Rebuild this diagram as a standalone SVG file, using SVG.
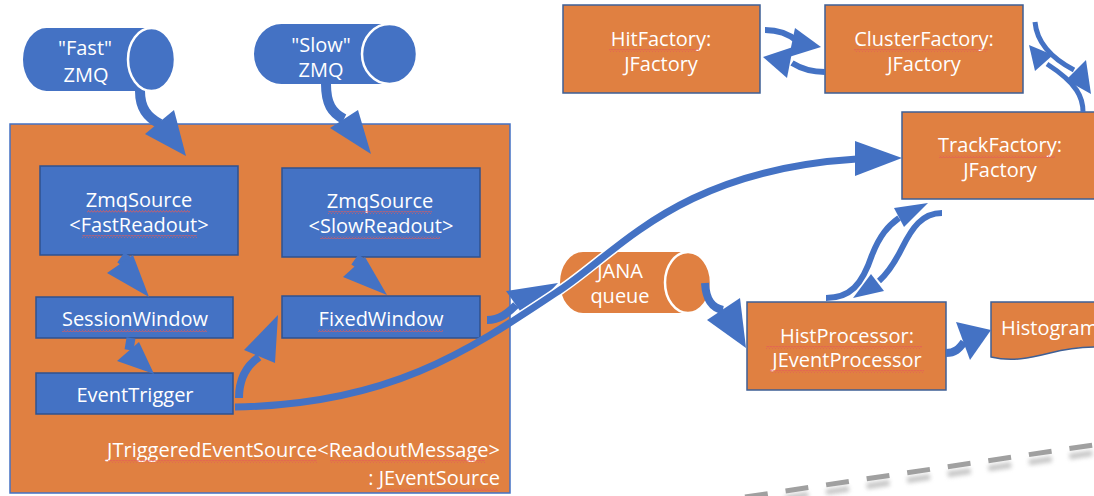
<svg xmlns="http://www.w3.org/2000/svg" width="1094" height="496" viewBox="0 0 1094 496">
  <defs>
    <style>
      .t { font-family: "Open Sans", "Noto Sans", sans-serif; font-size: 20px; fill: #ffffff; }
      .c { text-anchor: middle; }
      .r { text-anchor: end; }
      .bbox { fill: #4472C4; stroke: #2F528F; stroke-width: 1.5; }
      .obox { fill: #E08041; stroke: #3E5F95; stroke-width: 1.5; }
      .ln { fill: none; stroke: #4472C4; stroke-linecap: butt; }
      .hd { fill: #4472C4; }
      .sq { fill: url(#squiggle); }
    </style>
    <pattern id="squiggle" patternUnits="userSpaceOnUse" width="3" height="3">
      <path d="M0,2.5 L1.5,0.5 L3,2.5" fill="none" stroke="#E35B5B" stroke-width="0.8"/>
    </pattern>
    <filter id="shadow" x="-10%" y="-50%" width="120%" height="200%">
      <feGaussianBlur stdDeviation="2.2"/>
    </filter>
    <clipPath id="outside">
      <rect x="511" y="0" width="600" height="496"/>
    </clipPath>
  </defs>

  <!-- dashed boundary line with soft shadow -->
  <g id="boundary">
    <line x1="745" y1="504" x2="1100" y2="452" stroke="#9A9A9A" stroke-width="6" stroke-dasharray="23 18" opacity="0.55" filter="url(#shadow)"/>
    <line x1="745" y1="497" x2="1100" y2="444" stroke="#A0A0A0" stroke-width="5" stroke-dasharray="23 18"/>
  </g>

  <!-- ZMQ input queues -->
  <g id="fast-zmq">
    <path d="M46.5,28 L151.5,28 A23.5,31.5 0 0 1 151.5,91 L46.5,91 A23.5,31.5 0 0 1 46.5,28 Z" fill="#4472C4"/>
    <ellipse cx="151.5" cy="59.5" rx="23.5" ry="31.5" fill="#4472C4" stroke="#ffffff" stroke-width="2.5"/>
    <text class="t c" x="85" y="55">"Fast"</text>
    <text class="t c" x="86" y="82">ZMQ</text>
  </g>
  <g id="slow-zmq">
    <path d="M281.5,24 L389.5,24 A27.5,30 0 0 1 389.5,84 L281.5,84 A27.5,30 0 0 1 281.5,24 Z" fill="#4472C4"/>
    <ellipse cx="389.5" cy="54" rx="27.5" ry="30" fill="#4472C4" stroke="#ffffff" stroke-width="2.5"/>
    <text class="t c" x="321" y="52">"Slow"</text>
    <text class="t c" x="321" y="77">ZMQ</text>
  </g>

  <!-- event source container -->
  <g id="event-source">
    <rect x="10" y="124" width="500" height="369" fill="#E08041" stroke="#4472C4" stroke-width="1.5"/>
    <text class="t r" x="500" y="457">JTriggeredEventSource&lt;ReadoutMessage&gt;</text>
    <text class="t r" x="500" y="485">: JEventSource</text>
    <rect class="sq" x="108" y="460" width="209" height="3"/>
    <rect class="sq" x="330" y="460" width="155" height="3"/>
    <rect class="sq" x="378" y="488" width="120" height="3"/>
  </g>

  <g id="zmq-fast-source">
    <rect class="bbox" x="40" y="166" width="198" height="89"/>
    <text class="t c" x="139" y="207">ZmqSource</text>
    <text class="t c" x="139" y="232">&lt;FastReadout&gt;</text>
    <rect class="sq" x="87" y="210" width="103" height="3"/>
    <rect class="sq" x="82" y="235" width="115" height="3"/>
  </g>
  <g id="zmq-slow-source">
    <rect class="bbox" x="282" y="168" width="198" height="89"/>
    <text class="t c" x="380" y="208">ZmqSource</text>
    <text class="t c" x="381" y="233">&lt;SlowReadout&gt;</text>
    <rect class="sq" x="328" y="211" width="104" height="3"/>
    <rect class="sq" x="320" y="236" width="120" height="3"/>
  </g>
  <g id="session-window">
    <rect class="bbox" x="36" y="297" width="197" height="41"/>
    <text class="t c" x="135" y="326">SessionWindow</text>
    <rect class="sq" x="62" y="329" width="145" height="3"/>
  </g>
  <g id="fixed-window">
    <rect class="bbox" x="282" y="296" width="198" height="42"/>
    <text class="t c" x="381" y="326">FixedWindow</text>
    <rect class="sq" x="318" y="329" width="125" height="3"/>
  </g>
  <g id="event-trigger">
    <rect class="bbox" x="36" y="373" width="197" height="41"/>
    <text class="t c" x="135" y="402">EventTrigger</text>
  </g>

  <!-- JANA queue -->
  <g id="jana-queue">
    <path d="M583,252 L688,252 A23,30.5 0 0 1 688,313 L583,313 A23,30.5 0 0 1 583,252 Z" fill="#E08041"/>
    <ellipse cx="688" cy="282.5" rx="23" ry="30.5" fill="#E08041" stroke="#ffffff" stroke-width="2.5"/>
    <text class="t c" x="620" y="278">JANA</text>
    <text class="t c" x="620" y="303">queue</text>
  </g>

  <!-- factories and processor -->
  <g id="hit-factory">
    <rect class="obox" x="563" y="5" width="197" height="88"/>
    <text class="t c" x="661" y="46">HitFactory:</text>
    <text class="t c" x="661" y="71">JFactory</text>
    <rect class="sq" x="609" y="49" width="90" height="3"/>
  </g>
  <g id="cluster-factory">
    <rect class="obox" x="825" y="5" width="198" height="88"/>
    <text class="t c" x="924" y="46">ClusterFactory:</text>
    <text class="t c" x="924" y="71">JFactory</text>
    <rect class="sq" x="854" y="49" width="134" height="3"/>
  </g>
  <g id="track-factory">
    <rect class="obox" x="902" y="112" width="200" height="87"/>
    <text class="t c" x="1000" y="152">TrackFactory:</text>
    <text class="t c" x="1000" y="177">JFactory</text>
    <rect class="sq" x="939" y="155" width="116" height="3"/>
  </g>
  <g id="hist-processor">
    <rect class="obox" x="747" y="302" width="199" height="88"/>
    <text class="t c" x="847" y="343">HistProcessor:</text>
    <text class="t c" x="847" y="367">JEventProcessor</text>
    <rect class="sq" x="766" y="346" width="156" height="3"/>
    <rect class="sq" x="770" y="370" width="154" height="3"/>
  </g>
  <g id="histogram">
    <path class="obox" d="M991,302 L1100,302 L1100,347 C1085,347 1070,348 1050,353 C1030,358 1012,362 991,357 Z"/>
    <text class="t" x="1001" y="335">Histogram</text>
  </g>

  <!-- connectors -->
  <g id="connectors">
    <!-- ZMQ queues into their sources -->
    <path class="ln" stroke-width="10" d="M140,91 C140,108 147,117 160,124"/>
    <polygon class="hd" points="145,134 174,110 186,156"/>
    <path class="ln" stroke-width="10" d="M326,84 C326,104 332,113 344,119"/>
    <polygon class="hd" points="330,128 358,110 371,154"/>

    <!-- sources into windows, window into trigger -->
    <path class="ln" stroke-width="9" d="M128,255 L121,265"/>
    <polygon class="hd" points="107,273 133,255 149,297"/>
    <path class="ln" stroke-width="9" d="M362,257 L355,267"/>
    <polygon class="hd" points="343,277 365,257 387,295"/>
    <path class="ln" stroke-width="9" d="M131,338 L129,350"/>
    <polygon class="hd" points="117,361 139,342 154,374"/>

    <!-- trigger to fixed window -->
    <path class="ln" stroke-width="8" d="M239,398 C239,380 246,366 259,357"/>
    <polygon class="hd" points="244,350 275,363 278,315"/>

    <!-- fixed window into the JANA queue -->
    <path class="ln" stroke-width="8" d="M487,320 C500,320 508,313 516,305"/>
    <polygon class="hd" points="506,291 525,318 558,283"/>

    <!-- trigger straight to the track factory -->
    <path d="M235,407 C390,405 470,350 560,290 C620,250 680,170 857,159" fill="none" stroke="#ffffff" stroke-width="10" clip-path="url(#outside)"/>
    <path class="ln" stroke-width="7" d="M235,407 C390,405 470,350 560,290 C620,250 680,170 857,159"/>
    <polygon class="hd" points="855,141 902,158 855,176"/>

    <!-- hit / cluster factories -->
    <path class="ln" stroke-width="6" d="M765,30 C780,30 790,35 797,41"/>
    <polygon class="hd" points="795,28 821,47 789,57"/>
    <path class="ln" stroke-width="6" d="M825,72 C810,72 800,68 792,63"/>
    <polygon class="hd" points="793,47 763,57 787,78"/>

    <!-- cluster / track factories -->
    <path class="ln" stroke-width="5" d="M1035,22 C1037,45 1055,60 1074,70"/>
    <polygon class="hd" points="1086,60 1091,94 1066,80"/>
    <path class="ln" stroke-width="5" d="M1083,112 C1083,98 1078,84 1047,64"/>
    <polygon class="hd" points="1053,55 1029,45 1035,71"/>

    <!-- track factory / hist processor -->
    <path class="ln" stroke-width="6" d="M826,298 C850,298 862,285 872,255 C880,235 888,226 899,218"/>
    <polygon class="hd" points="894,208 928,203 904,227"/>
    <path class="ln" stroke-width="6" d="M942,213 C922,213 912,228 902,248 C895,262 888,273 879,281"/>
    <polygon class="hd" points="871,274 853,298 884,291"/>

    <!-- queue into processor -->
    <path class="ln" stroke-width="8" d="M705,283 C706,300 712,308 723,310"/>
    <polygon class="hd" points="707,320 740,298 746,348"/>

    <!-- processor into histogram -->
    <path class="ln" stroke-width="8" d="M946,353 C955,353 959,349 964,342"/>
    <polygon class="hd" points="956,322 970,360 991,330"/>
  </g>
</svg>
